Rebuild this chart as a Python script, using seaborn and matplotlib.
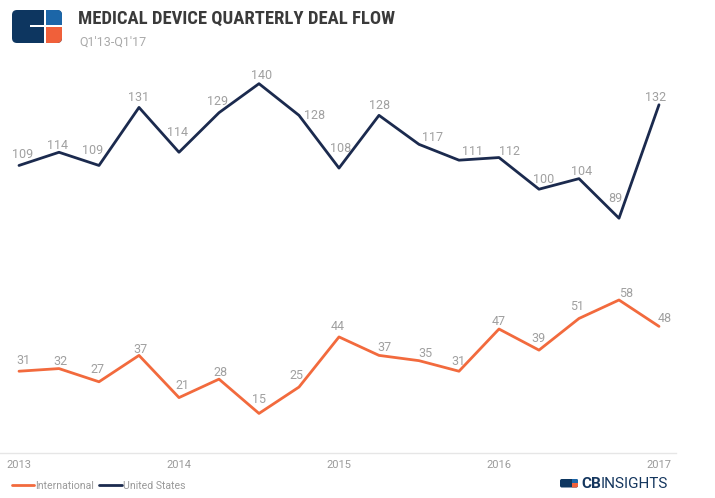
import matplotlib
matplotlib.use("Agg")
import matplotlib.pyplot as plt
import seaborn as sns
import pandas as pd
import numpy as np
from matplotlib.patches import FancyBboxPatch, Rectangle
from matplotlib.lines import Line2D
from matplotlib import font_manager

# ---------------- data ----------------
quarters = ["Q1'13", "Q2'13", "Q3'13", "Q4'13", "Q1'14", "Q2'14", "Q3'14", "Q4'14",
            "Q1'15", "Q2'15", "Q3'15", "Q4'15", "Q1'16", "Q2'16", "Q3'16", "Q4'16", "Q1'17"]
year_labels = ["2013", "2014", "2015", "2016", "2017"]
us_deals = [109, 114, 109, 131, 114, 129, 140, 128, 108, 128, 117, 111, 112, 100, 104, 89, 132]
intl_deals = [31, 32, 27, 37, 21, 28, 15, 25, 44, 37, 35, 31, 47, 39, 51, 58, 48]
series_names = ["International", "United States"]

# label offsets in pixels (layout only)
us_offsets = [(4, 11), (-1, 7), (-6, 15), (0, 10), (-1, 20), (-1, 11), (3, 8), (16, 0),
              (2, 20), (1, 10), (14, 7), (14, 9), (11, 6), (5, 10), (3, 7), (-4, 20), (-3, 7)]
intl_offsets = [(4, 11), (1, 7), (-2, 12), (1, 6), (3, 12), (2, 7), (0, 14), (-3, 12),
                (-1, 10), (5, 8), (6, 7), (-1, 10), (0, 8), (0, 12), (-2, 12), (7, 6), (6, 8)]

NAVY = "#1b2a4e"
ORANGE = "#f26a3d"
LABEL_GREY = "#a0a0a0"

n = len(quarters)
df = pd.DataFrame({
    "idx": list(range(n)) * 2,
    "deals": intl_deals + us_deals,
    "series": [series_names[0]] * n + [series_names[1]] * n,
})

sns.set_theme(style="white")
plt.rcParams["font.family"] = ["Roboto", "DejaVu Sans"]


def pick_font(cands):
    for c in cands:
        try:
            font_manager.findfont(font_manager.FontProperties(family=c), fallback_to_default=False)
            return c
        except Exception:
            pass
    return "Roboto"


title_font = pick_font(["Roboto Condensed", "Liberation Sans Narrow", "Roboto"])

W, H = 715, 498
fig = plt.figure(figsize=(W / 100, H / 100), dpi=100)
fig.patch.set_facecolor("white")

ax_bottom = (H - 453) / H
ax_height = 150 * 2.638 / H
ax = fig.add_axes([0, ax_bottom, 676 / W, ax_height])

sns.lineplot(data=df, x="idx", y="deals", hue="series",
             palette={series_names[0]: ORANGE, series_names[1]: NAVY},
             linewidth=2, ax=ax, legend=False, sort=False)

ax.set_xlim(-0.475, 16.425)
ax.set_ylim(0, 150)
ax.set_xlabel("")
ax.set_ylabel("")
ax.set_yticks([])
ax.set_xticks(range(0, n, 4))
ax.set_xticklabels(year_labels)
ax.set_xticks(np.arange(0.5, n - 1, 1), minor=True)
ax.tick_params(axis="x", which="major", length=0, pad=5, labelsize=8, labelcolor="#9a9a9a")
ax.tick_params(axis="x", which="minor", length=2.5, direction="in", color="#e2e2e2", width=0.8)
for s in ["top", "left", "right"]:
    ax.spines[s].set_visible(False)
ax.spines["bottom"].set_color("#e6e6e6")
ax.spines["bottom"].set_linewidth(1)
ax.patch.set_alpha(0)

for i, v in enumerate(us_deals):
    ax.annotate(str(v), (i, v), xytext=us_offsets[i], textcoords="offset pixels",
                ha="center", va="center", fontsize=9, color=LABEL_GREY)
for i, v in enumerate(intl_deals):
    ax.annotate(str(v), (i, v), xytext=intl_offsets[i], textcoords="offset pixels",
                ha="center", va="center", fontsize=9, color=LABEL_GREY)

# legend
handles = [Line2D([], [], color=ORANGE, lw=2), Line2D([], [], color=NAVY, lw=2)]
fig.legend(handles, series_names, loc="center left", bbox_to_anchor=(12 / W, 1 - 486 / H),
           ncol=2, frameon=False, fontsize=7.6, labelcolor="#9a9a9a", borderpad=0,
           handlelength=2.1, handletextpad=0.1, columnspacing=0.5, borderaxespad=0)

# overlay axes in pixel coordinates for header / logos
ov = fig.add_axes([0, 0, 1, 1], zorder=-1)
ov.set_xlim(0, W)
ov.set_ylim(H, 0)
ov.axis("off")

LOGO_NAVY = "#0d3660"
LOGO_BLUE = "#1c66a8"
LOGO_ORANGE = "#f0603a"


def logo(x0, y0, w, h, r):
    base = FancyBboxPatch((x0, y0), w, h, boxstyle=f"round,pad=0,rounding_size={r}",
                          fc=LOGO_NAVY, ec="none")
    ov.add_patch(base)
    xr = x0 + w * 0.68
    ym = y0 + h * 0.49
    gap = h * 0.075
    top = Rectangle((xr, y0 - 1), w, ym - y0 + 1, fc=LOGO_BLUE, ec="none")
    bot = Rectangle((xr, ym), w, h, fc=LOGO_ORANGE, ec="none")
    for p in (top, bot):
        ov.add_patch(p)
        p.set_clip_path(base)
    ov.add_patch(Rectangle((xr - w * 0.04, y0 - 1), w * 0.04, h + 2, fc="white", ec="none"))
    ov.add_patch(Rectangle((x0 + w * 0.36, ym - gap / 2), w, gap, fc="white", ec="none"))


logo(12, 10, 50, 33, 5)
logo(560, 479, 18, 8.5, 1.8)

fig.text(78 / W, 1 - 24 / H, "MEDICAL DEVICE QUARTERLY DEAL FLOW", family=[title_font, "DejaVu Sans"],
         fontweight="bold", fontsize=13.4, color="#3a3a3a", ha="left", va="baseline")
fig.text(79 / W, 1 - 46 / H, "Q1'13-Q1'17", fontsize=9, color="#aaaaaa", ha="left", va="baseline")

# CB Insights wordmark
fig.canvas.draw()
renderer = fig.canvas.get_renderer()
cb = fig.text(581 / W, 1 - 488 / H, "CB", fontsize=11, fontweight="bold", color="#14365e",
              ha="left", va="baseline")
bb = cb.get_window_extent(renderer)
fig.text(bb.x1 / W, 1 - 488 / H, "INSIGHTS", fontsize=11, color="#14365e",
         ha="left", va="baseline")

fig.savefig("out.png", dpi=100, facecolor="white")
